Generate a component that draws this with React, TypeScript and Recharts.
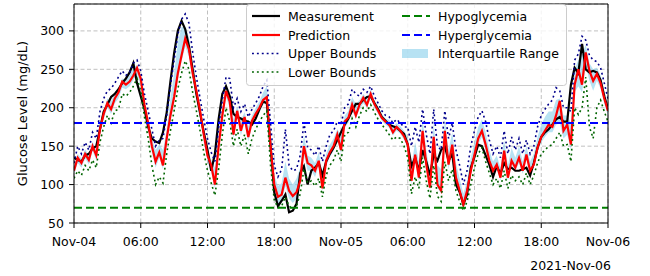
import React from "react";
import {
  ComposedChart,
  Line,
  Area,
  XAxis,
  YAxis,
  CartesianGrid,
  ReferenceLine,
} from "recharts";

// sampling grid: one reading every 20 minutes from Nov-04 00:00
const STEP_MIN = 20;
const tickHours = [0, 6, 12, 18, 24, 30, 36, 42, 48];
const tickLabels = ["Nov-04", "06:00", "12:00", "18:00", "Nov-05", "06:00", "12:00", "18:00", "Nov-06"];
const yTicks = [50, 100, 150, 200, 250, 300];
const HYPO = 70;
const HYPER = 180;

const measurement = [
  135, 132, 130, 138, 140, 147, 150, 172, 195, 204, 214, 218, 224, 232, 238, 246, 258, 232, 215, 198,
  175, 160, 156, 154, 168, 194, 234, 271, 300, 313, 302, 280, 250, 218, 193, 168, 145, 118, 140, 185,
  218, 228, 215, 192, 188, 186, 183, 182, 178, 186, 198, 208, 206, 150, 90, 72, 79, 87, 64, 66,
  75, 115, 124, 100, 118, 122, 128, 112, 130, 140, 148, 158, 168, 178, 186, 196, 205, 205, 210, 214,
  215, 206, 198, 188, 183, 178, 176, 174, 170, 166, 152, 124, 135, 118, 145, 130, 112, 139, 131, 145,
  150, 131, 140, 100, 90, 74, 87, 122, 136, 152, 150, 138, 126, 110, 124, 114, 128, 120, 122, 118,
  118, 120, 122, 112, 128, 148, 162, 168, 172, 178, 185, 188, 182, 182, 230, 252, 245, 283, 250, 246,
  248, 246, 236, 215, 198,
];

const prediction = [
  118, 135, 128, 140, 132, 150, 138, 172, 192, 206, 198, 212, 220, 234, 230, 234, 242, 252, 238, 204,
  180, 150, 130, 142, 125, 160, 190, 214, 245, 268, 290, 276, 245, 222, 196, 165, 138, 125, 100, 150,
  190, 222, 208, 165, 196, 170, 188, 162, 183, 192, 200, 210, 214, 150, 100, 84, 87, 109, 92, 85,
  90, 105, 150, 128, 125, 118, 131, 95, 131, 142, 150, 165, 145, 182, 187, 204, 190, 204, 213, 204,
  218, 205, 196, 187, 182, 178, 168, 175, 170, 163, 152, 105, 139, 109, 170, 126, 96, 162, 100, 92,
  170, 126, 152, 109, 92, 74, 92, 118, 139, 160, 170, 152, 131, 118, 126, 109, 144, 109, 131, 122,
  135, 118, 139, 118, 126, 148, 162, 170, 178, 175, 190, 209, 170, 178, 152, 230, 250, 230, 272, 248,
  235, 244, 232, 212, 196,
];

const upperBounds = [
  128, 150, 140, 155, 145, 168, 160, 195, 212, 222, 225, 232, 240, 248, 242, 246, 258, 262, 248, 218,
  196, 172, 150, 158, 160, 190, 228, 262, 295, 315, 322, 310, 272, 240, 212, 185, 160, 142, 130, 175,
  210, 240, 238, 200, 212, 195, 205, 188, 198, 206, 215, 228, 236, 180, 125, 110, 120, 172, 125, 118,
  120, 138, 181, 148, 145, 138, 150, 130, 150, 165, 170, 182, 178, 200, 205, 224, 218, 215, 224, 220,
  228, 215, 206, 196, 190, 188, 180, 185, 180, 175, 175, 150, 175, 155, 198, 165, 140, 198, 150, 145,
  196, 160, 180, 145, 125, 100, 118, 150, 170, 188, 196, 182, 158, 140, 150, 135, 170, 140, 162, 145,
  160, 140, 158, 140, 150, 175, 190, 198, 205, 210, 226, 222, 200, 200, 195, 262, 270, 293, 288, 268,
  262, 260, 252, 232, 212,
];

const lowerBounds = [
  108, 118, 112, 125, 118, 132, 122, 155, 175, 190, 180, 196, 198, 218, 215, 220, 228, 238, 222, 188,
  160, 125, 100, 110, 102, 140, 170, 196, 225, 245, 261, 250, 220, 196, 170, 142, 118, 102, 86, 120,
  165, 200, 182, 150, 172, 150, 165, 140, 160, 172, 182, 190, 196, 125, 80, 70, 72, 84, 72, 68,
  72, 88, 120, 102, 105, 98, 108, 84, 112, 125, 132, 145, 130, 165, 168, 186, 175, 190, 200, 195,
  204, 194, 185, 178, 172, 165, 158, 162, 160, 150, 135, 88, 110, 95, 135, 105, 82, 125, 85, 78,
  130, 105, 120, 92, 78, 66, 78, 100, 122, 140, 148, 130, 115, 100, 108, 95, 118, 95, 112, 105,
  110, 100, 115, 100, 112, 128, 140, 145, 150, 152, 160, 168, 150, 152, 130, 200, 191, 200, 240, 175,
  160, 200, 210, 195, 182,
];

const iqrLow = [
  114, 128, 122, 134, 126, 144, 132, 165, 185, 200, 192, 206, 212, 226, 224, 228, 236, 244, 228, 198,
  172, 142, 122, 135, 120, 152, 182, 206, 236, 260, 280, 266, 236, 212, 186, 155, 130, 116, 95, 142,
  182, 214, 200, 160, 188, 164, 180, 156, 176, 186, 194, 204, 208, 142, 90, 76, 78, 98, 82, 76,
  82, 98, 138, 118, 118, 110, 124, 92, 124, 136, 144, 158, 140, 175, 180, 196, 186, 198, 206, 200,
  212, 200, 192, 183, 178, 174, 164, 170, 166, 158, 148, 100, 132, 104, 162, 120, 92, 152, 96, 88,
  160, 120, 145, 104, 88, 72, 88, 112, 134, 152, 162, 145, 126, 114, 120, 105, 138, 105, 126, 118,
  128, 114, 132, 114, 122, 142, 155, 162, 168, 168, 178, 180, 160, 165, 145, 220, 228, 220, 255, 235,
  222, 235, 225, 205, 190,
];

const iqrHigh = [
  124, 140, 134, 146, 138, 156, 146, 180, 198, 212, 208, 220, 226, 238, 236, 242, 252, 256, 242, 210,
  186, 160, 145, 152, 145, 172, 212, 245, 285, 305, 305, 292, 258, 230, 200, 172, 148, 132, 122, 168,
  200, 228, 220, 185, 202, 184, 194, 176, 190, 200, 208, 220, 228, 168, 112, 98, 102, 130, 108, 100,
  108, 122, 165, 138, 135, 128, 142, 115, 140, 152, 160, 172, 165, 190, 196, 214, 205, 210, 218, 212,
  224, 210, 202, 192, 186, 184, 175, 180, 176, 170, 162, 125, 155, 130, 185, 145, 115, 180, 125, 120,
  185, 145, 168, 128, 108, 88, 105, 135, 155, 175, 185, 168, 145, 130, 138, 122, 158, 125, 148, 135,
  150, 130, 150, 130, 140, 162, 178, 188, 195, 195, 210, 212, 190, 190, 180, 250, 262, 270, 282, 258,
  250, 252, 242, 222, 205,
];

const rows = measurement.map((m, i) => ({
  t: (i * STEP_MIN) / 60,
  meas: m,
  pred: prediction[i],
  upper: upperBounds[i],
  lower: lowerBounds[i],
  iqr: [iqrLow[i], iqrHigh[i]],
}));

const FONT = "DejaVu Sans, sans-serif";

function XTick(props: any) {
  const { x, y, payload } = props;
  const idx = tickHours.indexOf(payload.value);
  return (
    <g>
      <text x={x} y={y} dy={14} textAnchor="middle" fontSize={12.5} fontFamily={FONT} fill="#000">
        {tickLabels[idx]}
      </text>
      {idx === tickLabels.length - 1 && (
        <text x={x + 3} y={y} dy={38} textAnchor="end" fontSize={12.5} fontFamily={FONT} fill="#000">
          2021-Nov-06
        </text>
      )}
    </g>
  );
}

function YTick(props: any) {
  const { x, y, payload } = props;
  return (
    <text x={x} y={y} dy={4.5} textAnchor="end" fontSize={12.5} fontFamily={FONT} fill="#000">
      {payload.value}
    </text>
  );
}

const legendItems = [
  { label: "Measurement", col: 0, row: 0, kind: "line", color: "#000", dash: undefined, w: 2.2 },
  { label: "Prediction", col: 0, row: 1, kind: "line", color: "#ff0000", dash: undefined, w: 2.2 },
  { label: "Upper Bounds", col: 0, row: 2, kind: "line", color: "#00008b", dash: "1.9 3", w: 1.6 },
  { label: "Lower Bounds", col: 0, row: 3, kind: "line", color: "#006400", dash: "1.9 3", w: 1.6 },
  { label: "Hypoglycemia", col: 1, row: 0, kind: "line", color: "#008000", dash: "8 4", w: 2 },
  { label: "Hyperglycemia", col: 1, row: 1, kind: "line", color: "#0000ff", dash: "8 4", w: 2 },
  { label: "Interquartile Range", col: 1, row: 2, kind: "patch", color: "#87ceeb", dash: undefined, w: 0 },
];

function LegendBox() {
  const colX = [6, 156];
  const rowY = [12, 31, 49.5, 68];
  return (
    <svg
      width={322}
      height={83}
      style={{ position: "absolute", left: 246, top: 4, overflow: "visible" }}
    >
      <rect x={0.5} y={0.5} width={320} height={81} rx={3} fill="#fff" fillOpacity={0.8} stroke="#cccccc" />
      {legendItems.map((it) => {
        const x0 = colX[it.col];
        const yc = rowY[it.row];
        return (
          <g key={it.label}>
            {it.kind === "line" ? (
              <line x1={x0} x2={x0 + 28} y1={yc} y2={yc} stroke={it.color} strokeWidth={it.w} strokeDasharray={it.dash} />
            ) : (
              <rect x={x0} y={yc - 4.5} width={26} height={9} fill={it.color} fillOpacity={0.6} />
            )}
            <text x={x0 + 36} y={yc} dy={4.5} fontSize={12.5} fontFamily={FONT} fill="#000">
              {it.label}
            </text>
          </g>
        );
      })}
    </svg>
  );
}

export default function App() {
  return (
    <div style={{ position: "fixed", left: 0, top: 0, width: 650, height: 276, background: "#fff" }}>
      <ComposedChart
        width={650}
        height={276}
        data={rows}
        margin={{ top: 4, right: 42, bottom: 0, left: 0 }}
      >
        <CartesianGrid stroke="#b0b0b0" strokeDasharray="4 2.5" strokeWidth={0.8} />
        <XAxis
          dataKey="t"
          type="number"
          domain={[0, 48]}
          ticks={tickHours}
          tick={<XTick />}
          tickSize={5}
          tickMargin={4}
          height={53}
          axisLine={{ stroke: "#000", strokeWidth: 1 }}
          tickLine={{ stroke: "#000" }}
          allowDataOverflow
        />
        <YAxis
          type="number"
          domain={[50, 335]}
          ticks={yTicks}
          tick={<YTick />}
          tickSize={5}
          tickMargin={5}
          width={74}
          axisLine={{ stroke: "#000", strokeWidth: 1 }}
          tickLine={{ stroke: "#000" }}
          allowDataOverflow
          label={{
            value: "Glucose Level (mg/dL)",
            angle: -90,
            position: "insideLeft",
            offset: 22,
            style: { fontSize: 13, fontFamily: FONT, fill: "#000", textAnchor: "middle" },
          }}
        />
        <Area
          dataKey="iqr"
          type="linear"
          stroke="none"
          fill="#87ceeb"
          fillOpacity={0.6}
          isAnimationActive={false}
        />
        <Line dataKey="meas" type="linear" stroke="#000" strokeWidth={2.2} dot={false} isAnimationActive={false} />
        <Line dataKey="pred" type="linear" stroke="#ff0000" strokeWidth={2.2} dot={false} isAnimationActive={false} />
        <Line
          dataKey="upper"
          type="linear"
          stroke="#00008b"
          strokeWidth={1.6}
          strokeDasharray="1.9 3"
          dot={false}
          isAnimationActive={false}
        />
        <Line
          dataKey="lower"
          type="linear"
          stroke="#006400"
          strokeWidth={1.6}
          strokeDasharray="1.9 3"
          dot={false}
          isAnimationActive={false}
        />
        <ReferenceLine y={HYPO} stroke="#008000" strokeWidth={2} strokeDasharray="8 4" />
        <ReferenceLine y={HYPER} stroke="#0000ff" strokeWidth={2} strokeDasharray="8 4" />
        <ReferenceLine y={335} stroke="#000" strokeWidth={1} />
        <ReferenceLine x={48} stroke="#000" strokeWidth={1} />
      </ComposedChart>
      <LegendBox />
    </div>
  );
}
